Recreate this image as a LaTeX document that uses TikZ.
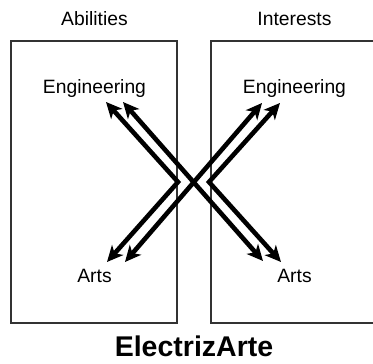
\documentclass[tikz,border=0pt]{standalone}
\usepackage{fontspec}
\setmainfont{Liberation Sans}
\usetikzlibrary{arrows.meta}
\tikzset{>={Stealth[length=16pt,width=15pt,inset=4.5pt]}}
\tikzset{
	% boxes
	panel/.style={draw=black!80,line width=1.4pt},
	% texts
	lbl/.style={anchor=base,inner sep=0pt,font=\fontsize{19.3}{22}\selectfont},
	ttl/.style={anchor=base,inner sep=0pt,font=\fontsize{28.5}{32}\selectfont\bfseries},
	% arrows
	link/.style={line width=4.6pt,line join=miter,<->},
}
\begin{document}
\begin{tikzpicture}[x=1pt,y=-1pt]
	\useasboundingbox (0,0) rectangle (373,364);
	\clip (0,0) rectangle (373,364);
	
	\draw[panel] (11,41) rectangle (177,323);
	\draw[panel] (211,41) rectangle (378,323);
	
	\node[lbl] (abil) at (94.5,25) {Abilities};
	\node[lbl] (intr) at (294.5,25) {Interests};
	\node[lbl] (abeng) at (94.5,93.5) {Engineering};
	\node[lbl] (ineng) at (294.5,93.5) {Engineering};
	\node[lbl] (abart) at (94.5,282) {Arts};
	\node[lbl] (inart) at (294.5,282) {Arts};
	\node[ttl] (title) at (194,356) {ElectrizArte};
	
	\coordinate (abv) at (178,182);
	\coordinate (inv) at (209,182);
	\coordinate (abengtip) at (106,102);
	\coordinate (abarttip) at (107,262);
	\coordinate (inengtip) at (280,103);
	\coordinate (inarttip) at (281,262);
	\coordinate (abengin) at (123,102);
	\coordinate (abartin) at (125,262);
	\coordinate (inengin) at (262,103);
	\coordinate (inartin) at (263,261);
	
	\draw[link] (abengtip) -- (abv) -- (abarttip);
	\draw[link] (inengtip) -- (inv) -- (inarttip);
	\draw[link] (abengin) -- (inartin);
	\draw[link] (abartin) -- (inengin);
	
\end{tikzpicture}
\end{document}
